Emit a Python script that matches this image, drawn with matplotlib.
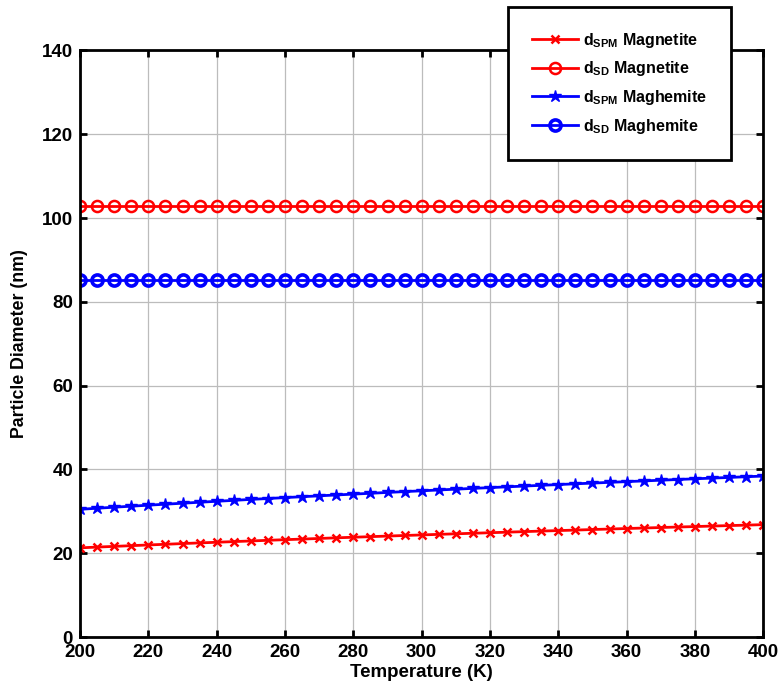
import matplotlib
matplotlib.use('Agg')
import matplotlib.pyplot as plt
import numpy as np

plt.rcParams['font.family'] = ['Liberation Sans', 'DejaVu Sans']
plt.rcParams['font.weight'] = 'bold'
plt.rcParams['mathtext.fontset'] = 'custom'
plt.rcParams['mathtext.default'] = 'bf'
plt.rcParams['mathtext.bf'] = 'Liberation Sans:bold'
plt.rcParams['mathtext.rm'] = 'Liberation Sans:bold'

# temperature, K (step 5)
T = np.arange(200, 401, 5)

# particle diameters, nm
d_spm_magnetite = [21.30, 21.48, 21.65, 21.82, 21.99, 22.15, 22.32, 22.48, 22.63, 22.79,
                   22.94, 23.10, 23.25, 23.39, 23.54, 23.69, 23.83, 23.97, 24.11, 24.25,
                   24.38, 24.52, 24.65, 24.78, 24.91, 25.04, 25.17, 25.30, 25.42, 25.54,
                   25.67, 25.79, 25.91, 26.03, 26.15, 26.27, 26.38, 26.50, 26.61, 26.72,
                   26.84]
d_spm_maghemite = [30.50, 30.75, 31.00, 31.24, 31.48, 31.72, 31.95, 32.18, 32.41, 32.63,
                   32.86, 33.07, 33.29, 33.50, 33.71, 33.92, 34.12, 34.32, 34.52, 34.72,
                   34.91, 35.11, 35.30, 35.49, 35.67, 35.86, 36.04, 36.22, 36.40, 36.58,
                   36.75, 36.93, 37.10, 37.27, 37.44, 37.61, 37.78, 37.94, 38.10, 38.27,
                   38.43]
d_sd_magnetite = [102.8] * len(T)
d_sd_maghemite = [85.2] * len(T)

fig = plt.figure(figsize=(7.8, 6.91), dpi=100)
ax = fig.add_axes([0.1026, 0.078, 0.876, 0.849])

ax.plot(T, d_spm_magnetite, '-x', color='r', lw=2, ms=5.5, mew=1.8, label=r'd$_{SPM}$ Magnetite')
ax.plot(T, d_sd_magnetite, '-o', color='r', lw=2, ms=8, mew=1.8, mfc='none', label=r'd$_{SD}$ Magnetite')
ax.plot(T, d_spm_maghemite, '-*', color='b', lw=2, ms=9, label=r'd$_{SPM}$ Maghemite')
ax.plot(T, d_sd_maghemite, '-o', color='b', lw=2, ms=8, mew=2.6, mfc='none', label=r'd$_{SD}$ Maghemite')

ax.set_xlim(200, 400)
ax.set_ylim(0, 140)
ax.set_xticks(np.arange(200, 401, 20))
ax.set_yticks(np.arange(0, 141, 20))
ax.grid(True, color='#bcbcbc', lw=0.9)
ax.tick_params(direction='in', labelsize=13.5, width=2, length=5, pad=5, top=True, right=True)
for s in ax.spines.values():
    s.set_linewidth(2)
ax.set_xlabel('Temperature (K)', fontsize=13.5, fontweight='bold', labelpad=2)
ax.set_ylabel('Particle Diameter (nm)', fontsize=12.8, fontweight='bold', labelpad=10)

leg = ax.legend(loc='upper left', bbox_to_anchor=(0.651, 0.99), bbox_transform=fig.transFigure,
                fancybox=False, edgecolor='k', fontsize=11.5, borderpad=1.5,
                labelspacing=0.6, handlelength=2.9, handletextpad=0.3, framealpha=1,
                borderaxespad=0)
leg.get_frame().set_linewidth(2)

fig.savefig('out.png', dpi=100)
